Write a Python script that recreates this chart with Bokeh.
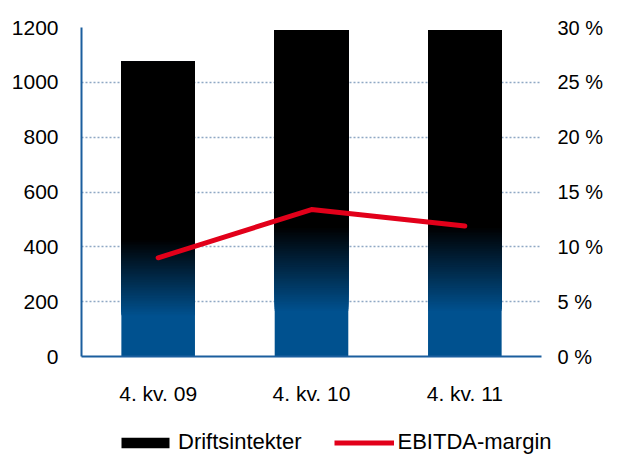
import numpy as np
from bokeh.plotting import figure
from bokeh.layouts import column
from bokeh.models import (FactorRange, Range1d, LinearAxis, FixedTicker,
                          PrintfTickFormatter, Legend, LegendItem)
from bokeh.embed import file_html
from bokeh.resources import INLINE

# ---- data ----
categories = ["4. kv. 09", "4. kv. 10", "4. kv. 11"]
revenue = [1075, 1190, 1190]          # Driftsintekter
ebitda_margin = [9.0, 13.4, 11.9]     # EBITDA-margin (%)
y_ticks = [0, 200, 400, 600, 800, 1000, 1200]
pct_ticks = [0, 5, 10, 15, 20, 25, 30]

# ---- style ----
FONT = "Liberation Sans"
AXIS_BLUE = "#1B5E9E"
BAR_BLUE = (0, 81, 143)
GRID = "#8FA8C4"
RED = "#E2001A"
SOLID_FRAC = 0.14
GRAD_FRAC = 0.40
N_SLICES = 48
BAR_W = 0.48

p = figure(x_range=FactorRange(*categories), y_range=Range1d(0, 1200),
           width=606, height=420,
           min_border_left=81, min_border_right=62,
           min_border_top=27, min_border_bottom=64,
           output_backend="svg", toolbar_location=None,
           outline_line_color=None, background_fill_color="white")
p.extra_y_ranges = {"pct": Range1d(0, 30)}

def hexcol(rgb):
    return "#%02x%02x%02x" % tuple(int(round(c)) for c in rgb)

# gradient bars built from the revenue values (overlapping layers, no seams)
gx, gb, gt, gc = [], [], [], []
for cat, v in zip(categories, revenue):
    gx.append(cat); gb.append(0); gt.append(v); gc.append(hexcol(BAR_BLUE))
    edges = np.linspace(SOLID_FRAC * v, GRAD_FRAC * v, N_SLICES + 1)
    for k in range(N_SLICES):
        t = (k + 1) / N_SLICES
        gx.append(cat); gb.append(edges[k]); gt.append(v)
        gc.append(hexcol([c * (1 - t) for c in BAR_BLUE]))

p.vbar(x=gx, bottom=gb, top=gt, width=BAR_W, fill_color=gc, line_color=None)
p.vbar(x=categories, bottom=[GRAD_FRAC * v for v in revenue],
       top=revenue, width=BAR_W, fill_color="black", line_color=None)

p.line(x=categories, y=ebitda_margin, y_range_name="pct",
       line_color=RED, line_width=5, line_cap="round", line_join="round")

# grid
p.xgrid.visible = False
p.ygrid.ticker = FixedTicker(ticks=y_ticks)
p.ygrid.grid_line_color = GRID
p.ygrid.grid_line_dash = "2 2"
p.ygrid.grid_line_width = 1.5

def style_axis(ax, standoff, size):
    ax.major_tick_line_color = None
    ax.minor_tick_line_color = None
    ax.major_tick_out = 0
    ax.major_tick_in = 0
    ax.minor_tick_out = 0
    ax.minor_tick_in = 0
    ax.major_label_standoff = standoff
    ax.major_label_text_font = FONT
    ax.major_label_text_font_size = size
    ax.major_label_text_color = "black"

# left axis
ya = p.yaxis[0]
ya.ticker = FixedTicker(ticks=y_ticks)
ya.axis_line_color = AXIS_BLUE
ya.axis_line_width = 2
style_axis(ya, 23, "21px")

# right axis
ra = LinearAxis(y_range_name="pct", ticker=FixedTicker(ticks=pct_ticks),
                formatter=PrintfTickFormatter(format="%d %%"))
ra.axis_line_color = None
style_axis(ra, 16, "20px")
p.add_layout(ra, "right")

# bottom axis
xa = p.xaxis[0]
xa.axis_line_color = AXIS_BLUE
xa.axis_line_width = 2
style_axis(xa, 25, "21px")

# ---- legend strip below the chart ----
lg = figure(width=606, height=35, x_range=Range1d(0, 1), y_range=Range1d(0, 1),
            x_axis_type=None, y_axis_type=None, min_border=0,
            output_backend="svg", toolbar_location=None,
            outline_line_color=None)
lg.frame_align = False
lg.xgrid.visible = False
lg.ygrid.visible = False
# legend proxies (placed outside the visible range of the strip)
r_bar = lg.vbar(x=[-5], top=[-4], bottom=[-5], width=0.5,
                fill_color="black", line_color=None)
r_line = lg.line(x=[-5, -4], y=[-5, -5], line_color=RED, line_width=5,
                 line_cap="butt")

legend = Legend(items=[LegendItem(label="Driftsintekter", renderers=[r_bar]),
                       LegendItem(label="EBITDA-margin", renderers=[r_line])],
                location=(115, 0), orientation="horizontal",
                background_fill_alpha=0, border_line_color=None,
                padding=0, margin=0, spacing=33,
                glyph_width=60, glyph_height=13, label_standoff=3,
                label_height=24,
                label_text_font=FONT, label_text_font_size="22px",
                label_text_color="black")
lg.add_layout(legend)

layout = column(p, lg, spacing=0)
open("out.html", "w").write(file_html(layout, INLINE))
